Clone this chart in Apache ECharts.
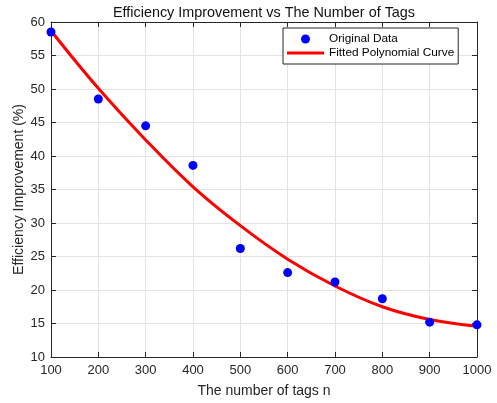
<!DOCTYPE html>
<html>
<head>
<meta charset="utf-8">
<script src="https://cdn.jsdelivr.net/npm/echarts@6/dist/echarts.min.js"></script>
<style>
  html, body { margin: 0; padding: 0; background: #fff; }
</style>
</head>
<body>
<div id="chart" style="width: 497px;height: 403px;"></div>
<script>
// tag counts (x axis)
var tagCounts = [100, 200, 300, 400, 500, 600, 700, 800, 900, 1000]
// measured efficiency improvement (%)
var originalData = [58.5, 48.5, 44.5, 38.6, 26.2, 22.6, 21.2, 18.7, 15.2, 14.8]
// fitted polynomial curve at each tag count
var fittedCurve = [58.7, 50.1, 42.4, 35.4, 29.6, 24.6, 20.6, 17.5, 15.6, 14.6]

var textColor = '#262626'
var font = 'Arial, "Liberation Sans", sans-serif'

function pairs(xs, ys) {
  return xs.map(function(x, i) { return [x, ys[i]] })
}

var chart = echarts.init(document.getElementById('chart'))

var option = {
  backgroundColor: '#fff',
  animation: false,
  title: {
    text: 'Efficiency Improvement vs The Number of Tags',
    left: 259,
    textAlign: 'center',
    top: 1,
    textStyle: {
      fontFamily: font,
      fontSize: 14.4,
      fontWeight: 'normal',
      color: '#111'
    }
  },
  legend: {
    data: [
      { name: 'Original Data', icon: 'circle' },
      { name: 'Fitted Polynomial Curve', icon: 'path://M0,0L37,0L37,3L0,3Z' }
    ],
    orient: 'vertical',
    left: 283,
    top: 28,
    padding: [5, 4, 5, 4],
    itemWidth: 37,
    itemHeight: 9,
    itemGap: 2,
    backgroundColor: '#fff',
    borderColor: '#262626',
    borderWidth: 1,
    borderRadius: 0,
    textStyle: {
      fontFamily: font,
      fontSize: 11.8,
      lineHeight: 12,
      color: '#000'
    }
  },
  grid: {
    left: 51,
    right: 20,
    top: 22,
    bottom: 46
  },
  xAxis: [
    {
      type: 'value',
      min: 100,
      max: 1000,
      interval: 100,
      name: 'The number of tags n',
      nameLocation: 'middle',
      nameGap: 27,
      nameTextStyle: { fontFamily: font, fontSize: 14, color: textColor },
      axisLine: { lineStyle: { color: textColor, width: 1 } },
      axisTick: { inside: true, length: 5, lineStyle: { color: textColor } },
      axisLabel: {
        fontFamily: font,
        fontSize: 13,
        color: textColor,
        margin: 7,
        formatter: function(v) { return String(v) }
      },
      splitLine: { show: true, lineStyle: { color: '#e3e3e3', width: 1 } }
    },
    {
      type: 'value',
      position: 'top',
      min: 100,
      max: 1000,
      interval: 100,
      axisLine: { show: true, lineStyle: { color: textColor, width: 1 } },
      axisTick: { show: true, inside: true, length: 5, lineStyle: { color: textColor } },
      axisLabel: { show: false },
      splitLine: { show: false }
    }
  ],
  yAxis: [
    {
      type: 'value',
      min: 10,
      max: 60,
      interval: 5,
      name: 'Efficiency Improvement (%)',
      nameLocation: 'middle',
      nameGap: 25,
      nameMoveOverlap: false,
      nameTextStyle: { fontFamily: font, fontSize: 14, color: textColor },
      axisLine: { show: true, lineStyle: { color: textColor, width: 1 } },
      axisTick: { show: true, inside: true, length: 5, lineStyle: { color: textColor } },
      axisLabel: { fontFamily: font, fontSize: 13, color: textColor, margin: 6 },
      splitLine: { show: true, lineStyle: { color: '#e3e3e3', width: 1 } }
    },
    {
      type: 'value',
      position: 'right',
      min: 10,
      max: 60,
      interval: 5,
      axisLine: { show: true, lineStyle: { color: textColor, width: 1 } },
      axisTick: { show: true, inside: true, length: 5, lineStyle: { color: textColor } },
      axisLabel: { show: false },
      splitLine: { show: false }
    }
  ],
  series: [
    {
      name: 'Fitted Polynomial Curve',
      type: 'line',
      smooth: 0.4,
      symbol: 'none',
      data: pairs(tagCounts, fittedCurve),
      lineStyle: { color: '#ff0000', width: 3 },
      itemStyle: { color: '#ff0000' },
      z: 2
    },
    {
      name: 'Original Data',
      type: 'scatter',
      symbol: 'circle',
      symbolSize: 9,
      data: pairs(tagCounts, originalData),
      itemStyle: { color: '#0000ff', opacity: 1 },
      z: 3
    }
  ]
}

chart.setOption(option)
</script>
</body>
</html>
